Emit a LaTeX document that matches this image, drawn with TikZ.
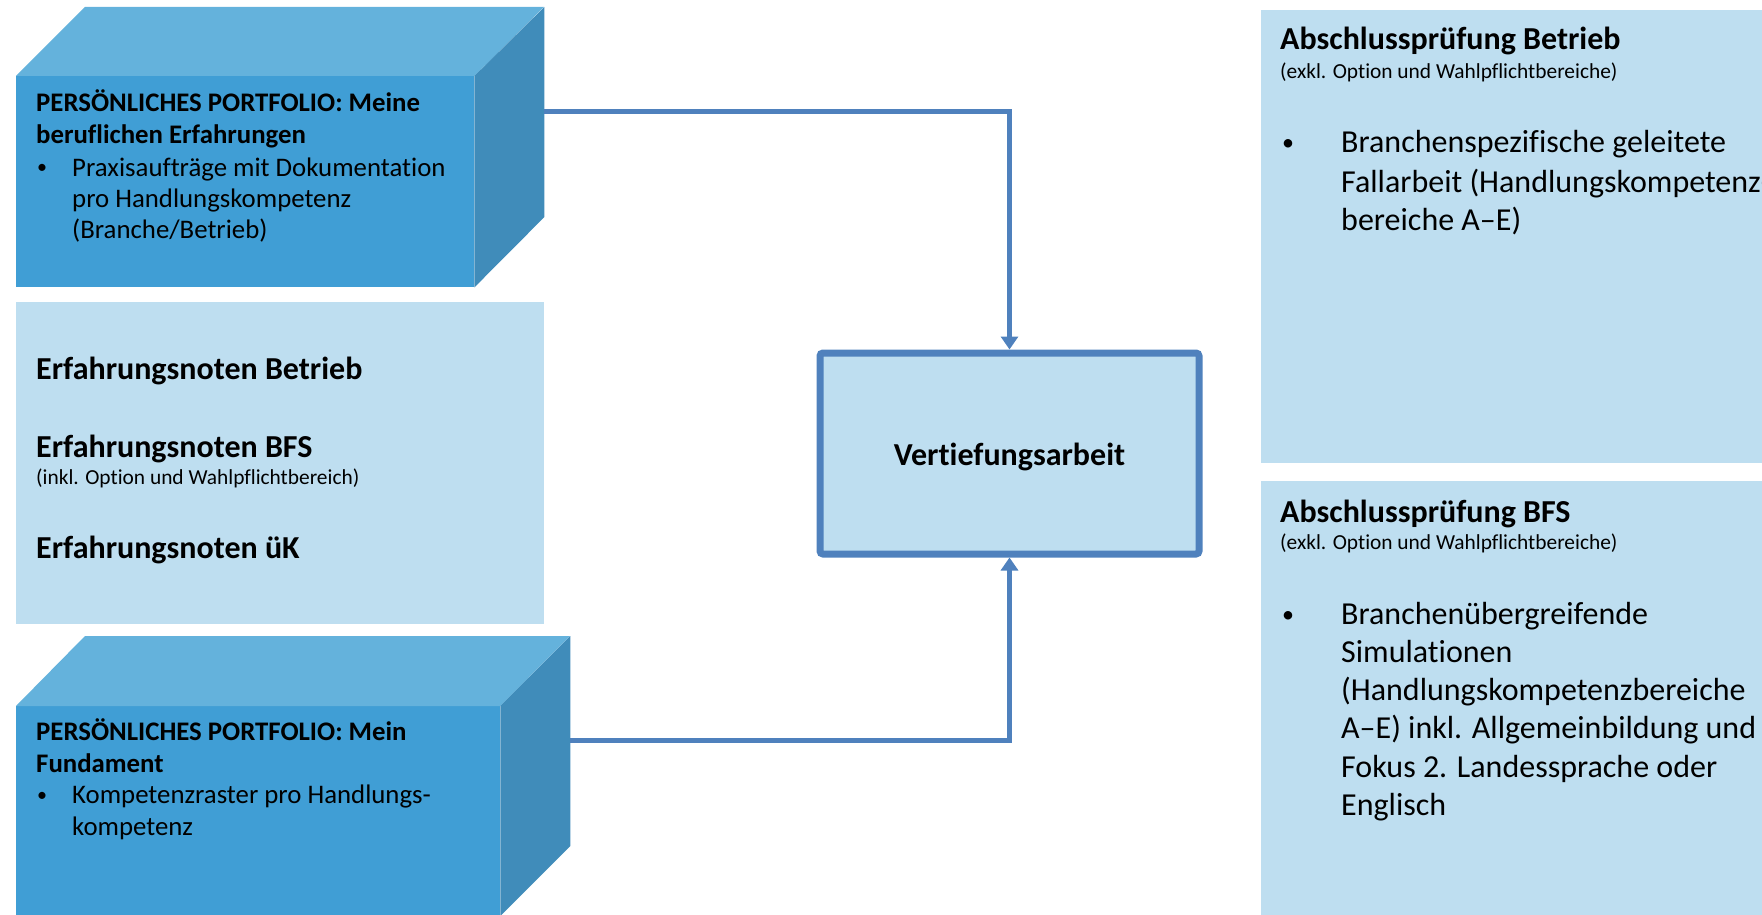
\documentclass[tikz,border=0pt]{standalone}
\usepackage{fontspec}
\setmainfont{Carlito}[Ligatures={NoCommon}]
\usetikzlibrary{arrows.meta,calc}
\definecolor{cubefront}{RGB}{64,158,213}
\definecolor{cubetop}{RGB}{100,178,220}
\definecolor{cubeside}{RGB}{64,140,186}
\definecolor{lightbox}{RGB}{190,222,240}
\definecolor{connblue}{RGB}{79,129,189}
\begin{document}
\begin{tikzpicture}[x=1pt,y=-1pt,
  front/.style={fill=cubefront, draw=none, inner sep=0pt, anchor=north west},
  panel/.style={fill=lightbox, draw=none, inner sep=0pt, anchor=north west},
  vbox/.style={fill=lightbox, draw=connblue, line width=7pt, rounded corners=3pt, inner sep=0pt},
  vtext/.style={anchor=base, inner sep=0pt, font=\fontsize{32}{38}\selectfont\bfseries},
  conn/.style={draw=connblue, line width=5pt, -{Triangle[width=17pt,length=13pt]}},
  ttl/.style={anchor=base west, inner sep=0pt, font=\fontsize{26.8}{32}\selectfont\bfseries},
  txt/.style={anchor=base west, inner sep=0pt, font=\fontsize{26.8}{32}\selectfont},
  bul/.style={anchor=base west, inner sep=0pt, font=\fontsize{20}{24}\selectfont},
  head/.style={anchor=base west, inner sep=0pt, font=\fontsize{32}{38}\selectfont\bfseries},
  small/.style={anchor=base west, inner sep=0pt, font=\fontsize{21.4}{26}\selectfont},
  big/.style={anchor=base west, inner sep=0pt, font=\fontsize{32}{38}\selectfont},
  bigbul/.style={anchor=base west, inner sep=0pt, font=\fontsize{24}{28}\selectfont},
]
\useasboundingbox (0,0) rectangle (1762,915);
\clip (0,0) rectangle (1762,915);

% top cube
\node[front, minimum width=458pt, minimum height=211pt] (p1) at (16,76) {};
\fill[cubetop] (p1.north west) -- ++(69,-69) -- ++(459,0) -- (p1.north east) -- cycle;
\fill[cubeside] (p1.north east) -- ++(70,-69) -- ++(0,210) -- (p1.south east) -- cycle;
\node[ttl] (p1a) at (36,112) {PERSÖNLICHES PORTFOLIO: Meine};
\node[ttl] (p1b) at (36,143) {beruflichen Erfahrungen};
\node[bul] (p1c) at (37,174) {•};
\node[txt] (p1d) at (72,176) {Praxisaufträge mit Dokumentation};
\node[txt] (p1e) at (72,207) {pro Handlungskompetenz};
\node[txt] (p1f) at (72,238) {(Branche/Betrieb)};

% middle panel
\node[panel, minimum width=528pt, minimum height=322pt] (mid) at (16,302) {};
\node[head] (m1) at (36,379) {Erfahrungsnoten Betrieb};
\node[head] (m2) at (36,457) {Erfahrungsnoten BFS};
\node[small] (m3) at (36,484) {(inkl. Option und Wahlpflichtbereich)};
\node[head] (m4) at (36,558) {Erfahrungsnoten üK};

% bottom cube
\node[front, minimum width=484pt, minimum height=230pt] (p2) at (16,706) {};
\fill[cubetop] (p2.north west) -- ++(69,-70) -- ++(485,0) -- (p2.north east) -- cycle;
\fill[cubeside] (p2.north east) -- ++(70,-70) -- ++(0,210) -- ++(-70,70) -- cycle;
\node[ttl] (p2a) at (36,740) {PERSÖNLICHES PORTFOLIO: Mein};
\node[ttl] (p2b) at (36,772) {Fundament};
\node[bul] (p2c) at (37,801) {•};
\node[txt] (p2d) at (72,803) {Kompetenzraster pro Handlungs-};
\node[txt] (p2e) at (72,835) {kompetenz};

% central box
\node[vbox, minimum width=379pt, minimum height=201pt] (va) at (1009.5,453.5) {};
\node[vtext] (vat) at (1009.5,465) {Vertiefungsarbeit};

% right panels
\node[panel, minimum width=520pt, minimum height=453pt] (r1) at (1261,10) {};
\node[head] (r1a) at (1280,50) {Abschlussprüfung Betrieb};
\node[small] (r1b) at (1280,79) {(exkl. Option und Wahlpflichtbereiche)};
\node[bigbul] (r1c) at (1282,151) {•};
\node[big] (r1d) at (1341,153) {Branchenspezifische geleitete};
\node[big] (r1e) at (1341,192) {Fallarbeit (Handlungskompetenz-};
\node[big] (r1f) at (1341,230) {bereiche A–E)};

\node[panel, minimum width=520pt, minimum height=450pt] (r2) at (1261,481) {};
\node[head] (r2a) at (1280,522) {Abschlussprüfung BFS};
\node[small] (r2b) at (1280,549) {(exkl. Option und Wahlpflichtbereiche)};
\node[bigbul] (r2c) at (1282,622) {•};
\node[big] (r2d) at (1341,624) {Branchenübergreifende};
\node[big] (r2e) at (1341,662) {Simulationen};
\node[big] (r2f) at (1341,700) {(Handlungskompetenzbereiche};
\node[big] (r2g) at (1341,738) {A–E) inkl. Allgemeinbildung und};
\node[big] (r2h) at (1341,777) {Fokus 2. Landessprache oder};
\node[big] (r2i) at (1341,815) {Englisch};

% connectors
\coordinate (p1out) at (544,112);
\coordinate (p2out) at (570,740);
\draw[conn] (p1out) -| (va.north);
\draw[conn] (p2out) -| (va.south);
\end{tikzpicture}
\end{document}
